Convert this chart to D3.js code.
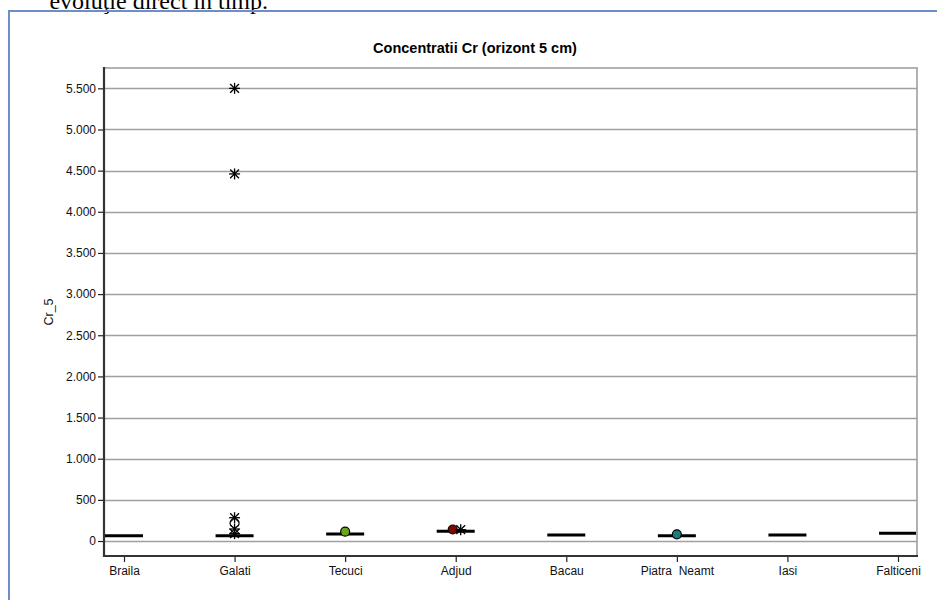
<!DOCTYPE html>
<html>
<head>
<meta charset="utf-8">
<script src="https://cdn.jsdelivr.net/npm/d3@7"></script>
<style>
  html, body { margin: 0; padding: 0; background: #fff; }
  svg { display: block; }
</style>
</head>
<body>
<svg id="chart" width="937" height="600"></svg>
<script>
// Sampling stations along the x axis
const stations = ["Braila", "Galati", "Tecuci", "Adjud", "Bacau", "Piatra  Neamt", "Iasi", "Falticeni"];
// Median Cr concentration per station (horizontal bars)
const medians = [64, 65, 85, 118, 73, 64, 73, 94];

// Individual flagged values: station, value, marker kind
const markStation = ["Galati", "Galati", "Galati", "Galati", "Galati", "Galati", "Tecuci", "Adjud", "Adjud", "Piatra  Neamt"];
const markValue   = [5500, 4460, 283, 219, 146, 90, 113, 140, 138, 81];
const markKind    = ["star", "star", "star", "ring", "star", "star", "dot", "dot", "star", "dot"];
const markColor   = [null, null, null, null, null, null, "#6aa51c", "#7a0a0a", null, "#137f80"];
const markShift   = [0, 0, 0, 0, 0, 0, 0, -3, 5, 0];

const yTicks = [0, 500, 1000, 1500, 2000, 2500, 3000, 3500, 4000, 4500, 5000, 5500];

const svg = d3.select("#chart");

// Running document text above the figure frame
svg.append("text")
  .attr("x", 268).attr("y", 9)
  .attr("text-anchor", "end")
  .attr("font-family", "Liberation Serif, serif")
  .attr("font-size", 24)
  .attr("fill", "#000")
  .text("evoluţie direct în timp.");

// Figure frame
svg.append("path")
  .attr("d", "M9,605 L9,11 L940,11")
  .attr("fill", "none")
  .attr("stroke", "#6b8fc6")
  .attr("stroke-width", 2);

const plotL = 104, plotR = 917, plotT = 68, plotB = 556;

const y = d3.scaleLinear().domain([-182, 5747]).range([plotB, plotT]);
const x = d3.scalePoint().domain(stations).range([124, 898]);

const fmt = v => d3.format(",")(v).replace(/,/g, ".");

// Title
svg.append("text")
  .attr("x", 475).attr("y", 53)
  .attr("text-anchor", "middle")
  .attr("font-family", "Liberation Sans, Arial, sans-serif")
  .attr("font-weight", "bold")
  .attr("font-size", 14.5)
  .text("Concentratii Cr (orizont 5 cm)");

// Plot frame (top and right)
svg.append("path")
  .attr("d", `M${plotL},${plotT} L${plotR},${plotT} L${plotR},${plotB}`)
  .attr("fill", "none")
  .attr("stroke", "#b2b2b2")
  .attr("stroke-width", 2);

// Horizontal gridlines
svg.append("g")
  .selectAll("line")
  .data(yTicks)
  .join("line")
  .attr("x1", plotL).attr("x2", plotR)
  .attr("y1", d => Math.round(y(d)) + 0.5).attr("y2", d => Math.round(y(d)) + 0.5)
  .attr("stroke", "#a0a0a0")
  .attr("stroke-width", 1.3);

// Y axis
const yAxis = svg.append("g")
  .attr("transform", `translate(${plotL},0)`)
  .call(d3.axisLeft(y).tickValues(yTicks).tickFormat(fmt).tickSize(6).tickSizeOuter(0));
yAxis.select(".domain").remove();
yAxis.selectAll(".tick line").attr("stroke", "#222").attr("stroke-width", 1.2);
yAxis.selectAll(".tick text")
  .attr("font-family", "Liberation Sans, Arial, sans-serif")
  .attr("font-size", 12)
  .attr("fill", "#111")
  .attr("x", -8);

// X axis
const xAxis = svg.append("g")
  .attr("transform", `translate(0,${plotB})`)
  .call(d3.axisBottom(x).tickSize(6).tickSizeOuter(0));
xAxis.select(".domain").remove();
xAxis.selectAll(".tick line").attr("stroke", "#222").attr("stroke-width", 1.2);
xAxis.selectAll(".tick text")
  .attr("font-family", "Liberation Sans, Arial, sans-serif")
  .attr("font-size", 12)
  .attr("fill", "#111")
  .attr("dy", "1.1em")
  .attr("y", 6)
  .style("white-space", "pre");

// Axis lines (left and bottom)
svg.append("path")
  .attr("d", `M${plotL},${plotT - 1} L${plotL},${plotB} L${plotR + 1},${plotB}`)
  .attr("fill", "none")
  .attr("stroke", "#333")
  .attr("stroke-width", 2.2);

// Y axis title
svg.append("text")
  .attr("transform", `translate(53,${(plotT + plotB) / 2}) rotate(-90)`)
  .attr("text-anchor", "middle")
  .attr("font-family", "Liberation Sans, Arial, sans-serif")
  .attr("font-size", 12.5)
  .attr("fill", "#111")
  .text("Cr_5");

// Median bars
const halfW = 19;
svg.append("g")
  .selectAll("line")
  .data(stations)
  .join("line")
  .attr("x1", (d) => Math.max(plotL, x(d) - halfW))
  .attr("x2", (d) => Math.min(plotR - 1, x(d) + halfW))
  .attr("y1", (d, i) => y(medians[i]))
  .attr("y2", (d, i) => y(medians[i]))
  .attr("stroke", "#000")
  .attr("stroke-width", 3);

// Markers
const marks = svg.append("g");
markStation.forEach((s, i) => {
  const cx = x(s) + markShift[i];
  const cy = y(markValue[i]);
  const kind = markKind[i];
  if (kind === "star") {
    const r = 5.5;
    const g = marks.append("g").attr("transform", `translate(${cx},${cy})`)
      .attr("stroke", "#000").attr("stroke-width", 1.3);
    g.append("line").attr("x1", -r).attr("x2", r).attr("y1", 0).attr("y2", 0);
    g.append("line").attr("x1", 0).attr("x2", 0).attr("y1", -r).attr("y2", r);
    const d = r * 0.8;
    g.append("line").attr("x1", -d).attr("x2", d).attr("y1", -d).attr("y2", d);
    g.append("line").attr("x1", -d).attr("x2", d).attr("y1", d).attr("y2", -d);
  } else if (kind === "ring") {
    marks.append("circle").attr("cx", cx).attr("cy", cy).attr("r", 4.5)
      .attr("fill", "none").attr("stroke", "#000").attr("stroke-width", 1.2);
  } else {
    marks.append("circle").attr("cx", cx).attr("cy", cy).attr("r", 4.5)
      .attr("fill", markColor[i]).attr("stroke", "#000").attr("stroke-width", 1.2);
  }
});
</script>
</body>
</html>
